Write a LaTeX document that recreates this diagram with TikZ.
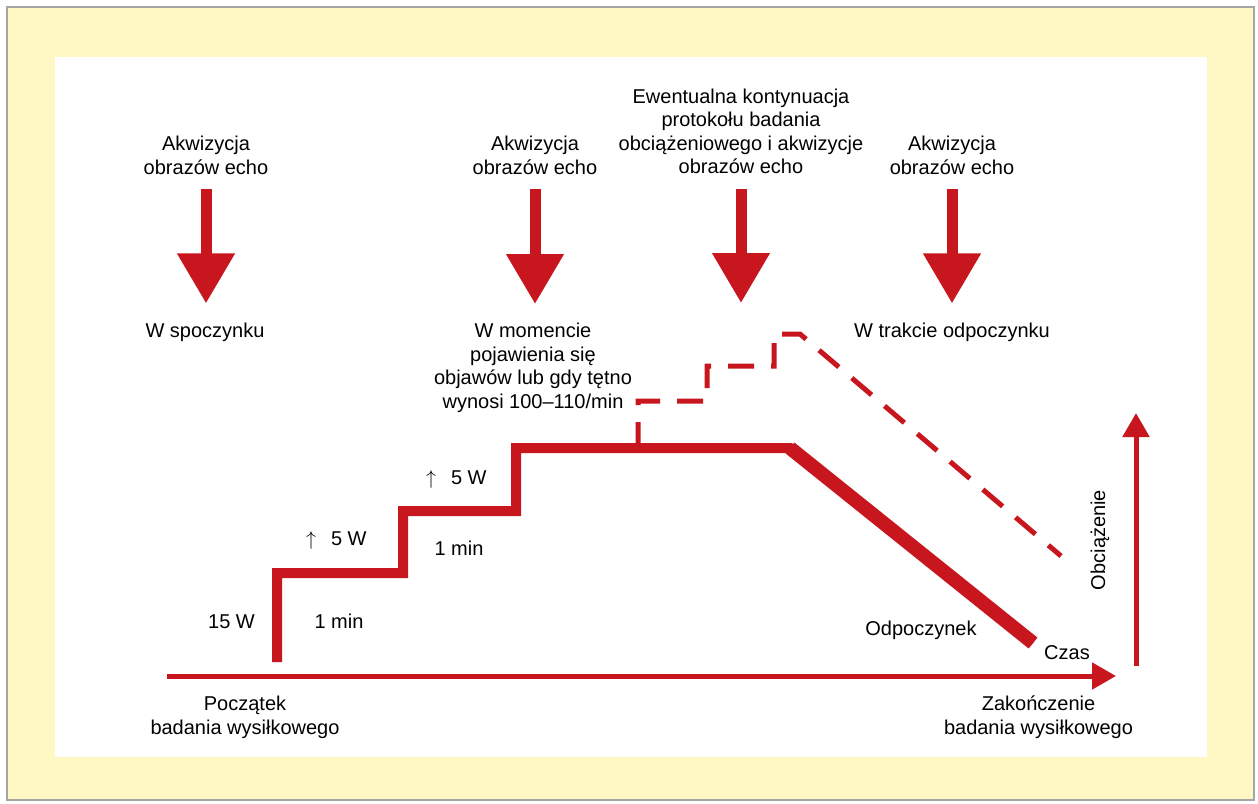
\documentclass[tikz,border=0pt]{standalone}
\usepackage{fontspec}
\setmainfont{Liberation Sans}
\usetikzlibrary{arrows.meta,positioning,calc}
\tikzset{>=Latex}
\definecolor{ecgred}{RGB}{200,22,30}
\definecolor{pagecream}{RGB}{255,248,196}
\definecolor{framegray}{RGB}{165,165,165}
\colorlet{loadline}{ecgred}
\tikzset{
  lbl/.style={font=\fontsize{10pt}{11.75pt}\selectfont,inner sep=0pt,align=center,text=black},
  bigdown/.style={line width=5.5pt,loadline,shorten <=7.25pt,-{Triangle[length=25pt,width=27.5pt]}},
  timeaxis/.style={line width=2.5pt,loadline,-{Triangle[length=12pt,width=13pt]}},
  stairs/.style={line width=5pt,loadline,line join=miter},
  contload/.style={line width=2.5pt,loadline,dash pattern=on 13pt off 8.5pt}
}

\begin{document}
\begin{tikzpicture}[x=0.5pt,y=-0.5pt]
  % frame and panel
  \useasboundingbox (0,0) rectangle (1258,803);
  \fill[white] (0,0) rectangle (1258,803);
  \filldraw[fill=pagecream,draw=framegray,line width=0.75pt] (7,7) rectangle (1254,800);
  \fill[white] (55,57) rectangle (1207,757);

  % top labels
  \node[lbl,anchor=north] (acq1) at (206,135.7) {Akwizycja\\obrazów echo};
  \node[lbl,anchor=north] (acq2) at (535,135.7) {Akwizycja\\obrazów echo};
  \node[lbl,anchor=north] (cont) at (741,88.2) {Ewentualna kontynuacja\\protokołu badania\\obciążeniowego i akwizycje\\obrazów echo};
  \node[lbl,anchor=north] (acq4) at (952,135.7) {Akwizycja\\obrazów echo};

  \node[lbl,anchor=base] (rest) at (205,337) {W spoczynku};
  \node[lbl,anchor=north] (onset) at (533,322.7) {W momencie\\pojawienia się\\objawów lub gdy tętno\\wynosi 100–110/min};
  \node[lbl,anchor=base] (recov) at (952,337) {W trakcie odpoczynku};
  \coordinate (tip3) at (741,303);

  % acquisition arrows
  \draw[bigdown,shorten >=9.35pt] (acq1.south) -- (acq1.south |- rest.north);
  \draw[bigdown,shorten >=9.35pt] (acq2.south) -- (acq2.south |- onset.north);
  \draw[bigdown] (cont.south) -- (cont.south |- tip3);
  \draw[bigdown,shorten >=9.35pt] (acq4.south) -- (acq4.south |- recov.north);

  % load profile
  \coordinate (s0) at (277,662);
  \coordinate (s1) at (403,573);
  \coordinate (s2) at (516,511);
  \coordinate (s3) at (790,448);
  \coordinate (s4) at (1033,643);
  \coordinate (c0) at (638,448);
  \coordinate (c1) at (707,401);
  \coordinate (c2) at (774,366);
  \coordinate (c3) at (800,334);
  \coordinate (c4) at (1061,556);
  \draw[contload] (c0) |- (c1) |- (c2) |- (c3) -- (c4);
  \draw[stairs] (s0) |- (s1) |- (s2) |- (s3) -- (s4);
  \draw[stairs,line width=7pt] (s3) -- (s4);

  % axes
  \coordinate (t0) at (167,676);
  \coordinate (t1) at (1116,676);
  \coordinate (w0) at (1136,666);
  \coordinate (w1) at (1136,413);
  \draw[timeaxis] (t0) -- (t1);
  \draw[timeaxis] (w0) -- (w1);

  % step labels
  \node[lbl,anchor=base east] (inc2) at (487,484) {$\uparrow$\hspace{0.75em}5 W};
  \node[lbl,anchor=base east] (inc1) at (367,545) {$\uparrow$\hspace{0.75em}5 W};
  \node[lbl,anchor=base] (min2) at (459,555) {1 min};
  \node[lbl,anchor=base] (min1) at (339,628) {1 min};
  \node[lbl,anchor=base] (start) at (231.5,628) {15 W};
  \node[lbl,anchor=base] (odp) at (921,635) {Odpoczynek};
  \node[lbl,anchor=base] (czas) at (1067,659) {Czas};
  \node[lbl,rotate=90] (obc) at (1100,540) {Obciążenie};
  \node[lbl,anchor=north] (begin) at (245,695.7) {Początek\\badania wysiłkowego};
  \node[lbl,anchor=north] (end) at (1038.5,695.7) {Zakończenie\\badania wysiłkowego};
\end{tikzpicture}
\end{document}
